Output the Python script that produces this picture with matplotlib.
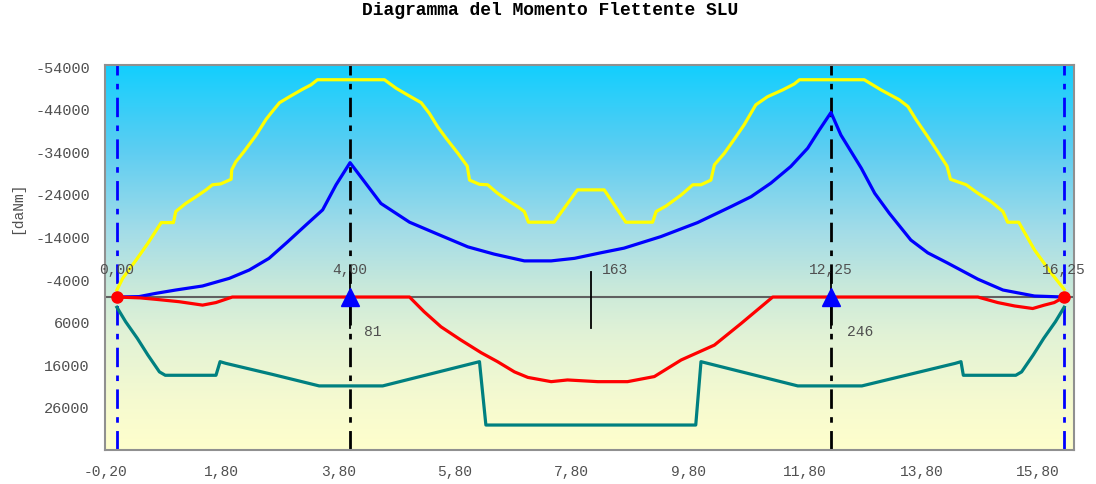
import matplotlib
matplotlib.use("Agg")
import matplotlib.pyplot as plt
import numpy as np
from matplotlib.colors import LinearSegmentedColormap

# supports and spans
supports = [0.0, 4.0, 12.25, 16.25]
support_labels = ["0,00", "4,00", "12,25", "16,25"]
mid_x = [4.0, 8.125, 12.25]
mid_labels = ["81", "163", "246"]

# envelope of negative moments (yellow)
yel_x = [0.0, 0.10, 0.33, 0.53, 0.76, 0.97, 1.01, 1.18, 1.36, 1.53, 1.64, 1.78, 1.96, 1.97,
         2.04, 2.18, 2.39, 2.56, 2.64, 2.79, 2.96, 3.19, 3.33, 3.44, 4.59, 4.79, 4.99, 5.22,
         5.36, 5.50, 5.65, 5.85, 6.01, 6.05, 6.22, 6.36, 6.53, 6.70, 6.88, 6.99, 7.06, 7.50,
         7.90, 8.36, 8.73, 9.19, 9.25, 9.42, 9.68, 9.88, 10.02, 10.19, 10.25, 10.42, 10.59,
         10.76, 10.96, 11.16, 11.42, 11.62, 11.71, 12.82, 13.11, 13.42, 13.57, 13.71, 13.91,
         14.08, 14.24, 14.30, 14.57, 14.77, 15.00, 15.20, 15.28, 15.47, 15.74, 16.03, 16.25]
yel_y = [-1650, -4400, -8700, -12600, -17500, -17500, -20100, -22000, -23600, -25200, -26400,
         -26600, -27700, -29900, -31800, -34200, -38100, -41800, -43200, -45700, -47100,
         -48900, -49900, -51100, -51100, -49100, -47500, -45700, -43200, -40100, -37300,
         -33800, -30800, -27500, -26500, -26400, -24400, -22800, -21200, -20100, -17600,
         -17600, -25200, -25200, -17600, -17600, -20100, -21400, -24000, -26400, -26400,
         -27500, -31100, -33800, -37100, -40500, -45200, -47100, -48700, -50100, -51100,
         -51100, -48700, -46400, -44800, -41700, -37700, -34200, -30800, -27700, -26400,
         -24400, -22400, -20100, -17600, -17600, -11100, -5600, -1800]

# combination moment (blue)
blu_x = [0.0, 0.38, 0.67, 1.01, 1.47, 1.93, 2.27, 2.61, 2.93, 3.24, 3.53, 3.76, 4.0, 4.53,
         5.02, 5.50, 6.02, 6.47, 6.99, 7.45, 7.85, 8.30, 8.70, 9.33, 9.96, 10.54, 10.88,
         11.22, 11.56, 11.85, 12.05, 12.25, 12.42, 12.77, 13.0, 13.25, 13.62, 13.91, 14.25,
         14.77, 15.20, 15.74, 16.25]
blu_y = [0, -100, -870, -1650, -2600, -4400, -6350, -9100, -13000, -16900, -20500, -26400,
         -31600, -22000, -17600, -14800, -11800, -10100, -8500, -8500, -9100, -10400,
         -11500, -14200, -17500, -21300, -23600, -26800, -30700, -35000, -39300, -43400,
         -38100, -30300, -24400, -19700, -13400, -10400, -8000, -4200, -1650, -240, 0]

# positive moments (red)
red_x = [0.0, 0.40, 0.67, 1.07, 1.47, 1.70, 1.98, 5.02, 5.27, 5.56, 5.90, 6.25, 6.53, 6.82,
         7.05, 7.45, 7.73, 8.25, 8.76, 9.22, 9.68, 10.25, 10.71, 11.05, 11.25, 14.77, 15.11,
         15.40, 15.71, 15.91, 16.08, 16.25]
red_y = [0, 200, 540, 1100, 1900, 1300, 0, 0, 3450, 7000, 10100, 13100, 15200, 17600, 18900,
         19900, 19500, 19900, 19900, 18700, 14800, 11300, 6200, 2300, 0, 0, 1300, 2100, 2700,
         1900, 1300, 0]

# envelope of positive moments (teal)
tea_x = [0.0, 0.15, 0.35, 0.53, 0.73, 0.83, 1.70, 1.77, 1.87, 2.67, 3.47, 4.56, 6.22, 6.33,
         9.93, 10.02, 11.68, 12.78, 14.38, 14.48, 14.52, 15.42, 15.52, 15.72, 15.90, 16.10,
         16.25]
tea_y = [2400, 5800, 9700, 13600, 17600, 18400, 18400, 15200, 15600, 18200, 20900, 20900,
         15200, 30100, 30100, 15200, 20900, 20900, 15600, 15200, 18400, 18400, 17600, 13600,
         9700, 5800, 2400]

x_ticks = np.arange(-0.2, 16.0, 2.0)
y_ticks = np.arange(-54000, 26001, 10000)

mono = "Liberation Mono"
grey = "#505050"

fig = plt.figure(figsize=(10.96, 4.84), dpi=100)
ax = fig.add_axes([0.096, 0.070, 0.884, 0.796])

# gradient background
cmap = LinearSegmentedColormap.from_list(
    "bg", [(0.0, "#12cffe"), (0.22, "#5ccdf2"), (0.43, "#a2dce8"), (0.58, "#c9e9da"),
           (0.70, "#e1f2d6"), (0.87, "#f5fad0"), (1.0, "#ffffcc")])
grad = np.linspace(0, 1, 256).reshape(-1, 1)
ax.imshow(grad, cmap=cmap, aspect="auto", extent=[0, 1, 0, 1], transform=ax.transAxes,
          zorder=0)

xmin, xmax = -0.2, 16.42
ymin, ymax = 36000, -54600
ax.set_xlim(xmin, xmax)
ax.set_ylim(ymin, ymax)

ax.axhline(0, color="#606060", lw=1.5, zorder=1)

dd = (0, (7, 3, 2, 3))
for s in supports:
    c = "blue" if s in (supports[0], supports[-1]) else "black"
    ax.axvline(s, color=c, lw=2, linestyle=dd, zorder=2)

for mx in mid_x:
    ax.plot([mx, mx], [-5900, 7300], color="black", lw=1.3, zorder=2)

ax.plot(yel_x, yel_y, color="#ffff00", lw=2.3, zorder=3)
ax.plot(blu_x, blu_y, color="#0000ff", lw=2.3, zorder=3)
ax.plot(red_x, red_y, color="#ff0000", lw=2.3, zorder=3)
ax.plot(tea_x, tea_y, color="#008080", lw=2.3, zorder=3)

ax.plot([supports[0], supports[-1]], [0, 0], "o", color="red", ms=8, zorder=5)
ax.plot(supports[1:3], [0, 0], "^", color="blue", ms=13, zorder=5)

for s, lab in zip(supports, support_labels):
    ax.text(s, -6400, lab, ha="center", va="center", fontsize=10.5, family=mono,
            color=grey, zorder=6)
ax.text(mid_x[0] + 0.24, 8300, mid_labels[0], ha="left", va="center", fontsize=10.5,
        family=mono, color=grey, zorder=6)
ax.text(mid_x[1] + 0.19, -6400, mid_labels[1], ha="left", va="center", fontsize=10.5,
        family=mono, color=grey, zorder=6)
ax.text(mid_x[2] + 0.28, 8300, mid_labels[2], ha="left", va="center", fontsize=10.5,
        family=mono, color=grey, zorder=6)

ax.set_xticks(x_ticks)
ax.set_xticklabels([f"{v:.2f}".replace(".", ",") for v in x_ticks], family=mono,
                   fontsize=10.5, color=grey)
ax.set_yticks(y_ticks)
ax.set_yticklabels([f"{v:d}" for v in y_ticks], family=mono, fontsize=11, color=grey)
ax.tick_params(length=0, pad=11)

for sp in ax.spines.values():
    sp.set_color("#909090")
    sp.set_linewidth(1.5)

fig.text(0.016, 0.57, "[daNm]", rotation=90, ha="center", va="center", family=mono,
         fontsize=10.5, color=grey)
fig.text(0.502, 0.978, "Diagramma del Momento Flettente SLU", ha="center", va="center",
         family=mono, fontsize=13, fontweight="bold", color="black")

fig.savefig("out.png", dpi=100)
